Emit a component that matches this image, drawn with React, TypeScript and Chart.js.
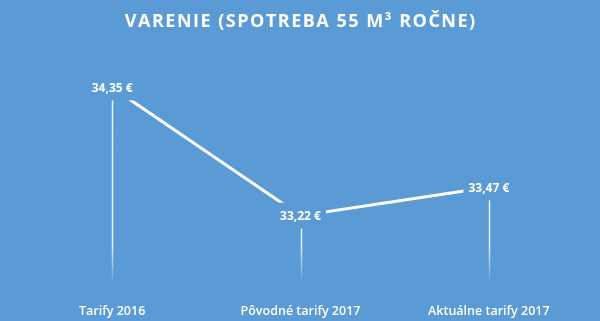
import React, { useEffect, useRef } from "react";
import { Chart, registerables } from "chart.js";

Chart.register(...registerables);

const categories = ["Tarify 2016", "Pôvodné tarify 2017", "Aktuálne tarify 2017"];
const values = [34.35, 33.22, 33.47];
const valueLabels = ["34,35 €", "33,22 €", "33,47 €"];
const titleText = "VARENIE (SPOTREBA 55 M³ ROČNE)";

const BG = "#5b9bd5";
const FONT = "'Open Sans', Lato, sans-serif";

const customDraw = {
  id: "customDraw",
  beforeDatasetsDraw(chart: any) {
    const { ctx, chartArea } = chart;
    const meta = chart.getDatasetMeta(0);
    ctx.save();
    meta.data.forEach((pt: any) => {
      const x = Math.round(pt.x) + 0.5;
      const y0 = pt.y;
      const y1 = chartArea.bottom - 2;
      const g = ctx.createLinearGradient(0, y0, 0, y1);
      const fadeStart = Math.max(0, 1 - 38 / (y1 - y0));
      g.addColorStop(0, "rgba(255,255,255,0.9)");
      g.addColorStop(fadeStart, "rgba(255,255,255,0.85)");
      g.addColorStop(1, "rgba(255,255,255,0)");
      ctx.strokeStyle = g;
      ctx.lineWidth = 1.5;
      ctx.beginPath();
      ctx.moveTo(x, y0);
      ctx.lineTo(x, y1);
      ctx.stroke();
    });
    ctx.restore();
  },
  afterDatasetsDraw(chart: any) {
    const { ctx } = chart;
    const meta = chart.getDatasetMeta(0);
    ctx.save();
    ctx.font = `bold 12px ${FONT}`;
    ctx.textAlign = "center";
    ctx.textBaseline = "middle";
    meta.data.forEach((pt: any, i: number) => {
      const text = valueLabels[i];
      const w = ctx.measureText(text).width;
      const padX = 5;
      const padY = 6;
      ctx.fillStyle = BG;
      ctx.fillRect(pt.x - w / 2 - padX, pt.y - 7 - padY, w + padX * 2, 14 + padY * 2);
      ctx.fillStyle = "#ffffff";
      ctx.fillText(text, pt.x, pt.y + 1);
    });
    ctx.restore();
  },
  afterDraw(chart: any) {
    const { ctx, width } = chart;
    ctx.save();
    ctx.font = `bold 18px ${FONT}`;
    (ctx as any).letterSpacing = "1.5px";
    ctx.textAlign = "center";
    ctx.textBaseline = "middle";
    ctx.fillStyle = "#ffffff";
    ctx.fillText(titleText, width / 2 + 0.75, 22);
    ctx.restore();
  },
};

export default function App() {
  const ref = useRef<HTMLCanvasElement | null>(null);
  useEffect(() => {
    if (!ref.current) return;
    const chart = new Chart(ref.current, {
      type: "line",
      data: {
        labels: categories,
        datasets: [
          {
            data: values,
            borderColor: "#ffffff",
            borderWidth: 3,
            pointRadius: 0,
            pointHoverRadius: 0,
            tension: 0,
            fill: false,
          },
        ],
      },
      options: {
        animation: false,
        responsive: false,
        maintainAspectRatio: false,
        devicePixelRatio: 1,
        layout: { padding: { left: 18, right: 17, top: 50, bottom: 0 } },
        plugins: {
          legend: { display: false },
          tooltip: { enabled: false },
          title: { display: false },
        },
        scales: {
          x: {
            offset: true,
            grid: { display: false, drawTicks: false },
            border: { display: false },
            afterFit: (axis: any) => {
              axis.height = 35;
            },
            ticks: {
              color: "#ffffff",
              padding: 18,
              maxRotation: 0,
              autoSkip: false,
              font: { family: FONT, size: 12.5, weight: "600", lineHeight: 1.2 },
            },
          },
          y: {
            display: false,
            min: 32.6,
            max: 34.68,
          },
        },
      },
      plugins: [customDraw],
    });
    return () => chart.destroy();
  }, []);
  return (
    <div style={{ position: "fixed", left: 0, top: 0, width: 600, height: 321, background: BG }}>
      <canvas ref={ref} width={600} height={321} style={{ display: "block", width: 600, height: 321 }} />
    </div>
  );
}
